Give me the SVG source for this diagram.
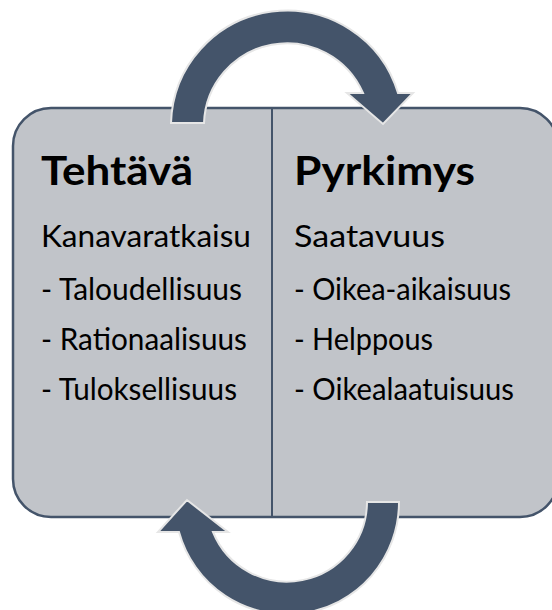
<svg xmlns="http://www.w3.org/2000/svg" width="552" height="610" viewBox="0 0 552 610">
  <style>
    .panel { fill: #C1C4C9; stroke: #44546A; stroke-width: 2.5; }
    .divider { stroke: #44546A; stroke-width: 2; }
    .arrow { fill: #44546A; stroke: #E6E6E6; stroke-width: 2; stroke-linejoin: miter; }
    .title { font-family: Lato, "Open Sans", sans-serif; font-weight: bold; font-size: 41px; fill: #000; }
    .item { font-family: Lato, "Open Sans", sans-serif; font-size: 31px; fill: #000; }
  </style>
  <rect width="552" height="610" fill="#FFFFFF"/>
  <g id="panel">
    <rect class="panel" x="13" y="108" width="545" height="409" rx="38" ry="38"/>
    <line class="divider" x1="272" y1="108" x2="272" y2="517"/>
  </g>
  <g id="node-tehtava">
    <text class="title" x="41" y="185" textLength="152" lengthAdjust="spacingAndGlyphs">Tehtävä</text>
    <text class="item" x="41" y="247" textLength="210" lengthAdjust="spacingAndGlyphs">Kanavaratkaisu</text>
    <text class="item" x="41" y="300" textLength="201" lengthAdjust="spacingAndGlyphs">- Taloudellisuus</text>
    <text class="item" x="41" y="350" textLength="206" lengthAdjust="spacingAndGlyphs">- Rationaalisuus</text>
    <text class="item" x="41" y="400" textLength="196" lengthAdjust="spacingAndGlyphs">- Tuloksellisuus</text>
  </g>
  <g id="node-pyrkimys">
    <text class="title" x="294" y="185" textLength="181" lengthAdjust="spacingAndGlyphs">Pyrkimys</text>
    <text class="item" x="294" y="247" textLength="151" lengthAdjust="spacingAndGlyphs">Saatavuus</text>
    <text class="item" x="294" y="300" textLength="217" lengthAdjust="spacingAndGlyphs">- Oikea-aikaisuus</text>
    <text class="item" x="294" y="350" textLength="139" lengthAdjust="spacingAndGlyphs">- Helppous</text>
    <text class="item" x="294" y="400" textLength="220" lengthAdjust="spacingAndGlyphs">- Oikealaatuisuus</text>
  </g>
  <g id="connectors">
    <path id="arrow-top" class="arrow" d="M 171,123 A 116 116 0 0 1 398,93 L 413,93 L 383,124 L 347,93 L 363,93 A 83 83 0 0 0 204,123 Z"/>
    <path id="arrow-bottom" class="arrow" d="M 399,502 L 367,502 A 80 80 0 0 1 213,532 L 228,532 L 187,500 L 158,532 L 179,532 A 112 112 0 0 0 399,502 Z"/>
  </g>
</svg>
